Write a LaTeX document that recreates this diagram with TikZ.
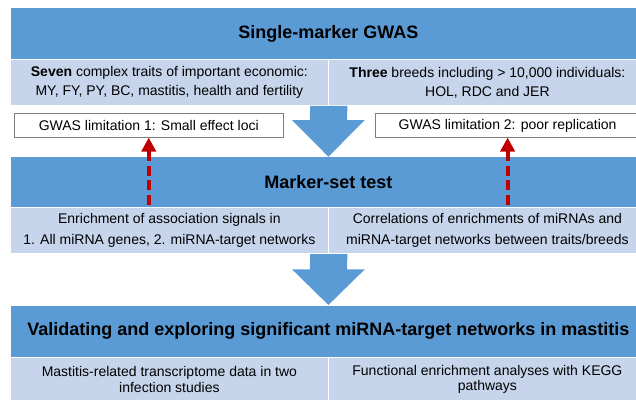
\documentclass[tikz,border=0pt]{standalone}
\usepackage{fontspec}
\setmainfont{Liberation Sans}
\usetikzlibrary{arrows.meta,calc}
\definecolor{bandblue}{HTML}{5B9BD5}
\definecolor{celllight}{HTML}{C6D5EB}
\definecolor{limgray}{HTML}{7F7F7F}
\definecolor{flagred}{HTML}{C00000}
\begin{document}
\begin{tikzpicture}[x=1pt,y=-1pt,
  band/.style={draw=white, line width=0.8pt, fill=bandblue, anchor=north west,
    inner sep=0pt, minimum width=636pt, minimum height=52pt,
    font=\fontsize{18}{21}\selectfont\bfseries},
  cell/.style={draw=white, line width=0.8pt, fill=celllight, anchor=north west,
    inner sep=0pt, minimum width=318pt, align=center},
  limbox/.style={draw=limgray, line width=0.8pt, fill=white, anchor=north west,
    inner sep=0pt, minimum height=23.4pt, font=\fontsize{14}{17}\selectfont},
  blockarrow/.style={fill=bandblue},
  upflag/.style={draw=flagred, line width=4pt, dash pattern=on 10pt off 4.5pt,
    -{Triangle[width=14pt,length=14pt]}}
]
\useasboundingbox (0,0) rectangle (636,399);
\clip (0,0) rectangle (636,399);

% stage 1: single-marker GWAS
\node[band] (gwas) at (10,7.3) {Single-marker GWAS};
\node[cell, minimum height=45.7pt, font=\fontsize{14}{19}\selectfont] (traits) at (10,59.3)
  {\textbf{Seven} complex traits of important economic:\\MY, FY, PY, BC, mastitis, health and fertility};
\node[cell, minimum height=45.7pt, font=\fontsize{14}{19}\selectfont] (breeds) at (328,59.3)
  {\textbf{Three} breeds including > 10,000 individuals:\\HOL, RDC and JER};

% limitations addressed by the marker-set test
\node[limbox, minimum width=268.7pt] (lim1) at (14,113.3) {GWAS limitation 1: Small effect loci};
\node[limbox, minimum width=265pt] (lim2) at (374.7,113.3) {GWAS limitation 2: poor replication};

% stage 2: marker-set test
\node[band, minimum height=51.3pt] (mtest) at (10,156) {Marker-set test};
\node[cell, minimum height=46pt, font=\fontsize{14}{21}\selectfont] (enrich) at (10,207.3)
  {Enrichment of association signals in\\1. All miRNA genes, 2. miRNA-target networks};
\node[cell, minimum height=46pt, font=\fontsize{14}{21}\selectfont] (corr) at (328,207.3)
  {Correlations of enrichments of miRNAs and\\miRNA-target networks between traits/breeds};

% stage 3: validation in mastitis
\node[band, minimum height=51.7pt] (valid) at (10,305) {Validating and exploring significant miRNA-target networks in mastitis};
\node[cell, minimum height=44.3pt, font=\fontsize{14}{15.5}\selectfont] (transc) at (10,356.7)
  {Mastitis-related transcriptome data in two\\infection studies};
\node[cell, minimum height=44.3pt, font=\fontsize{14}{15.5}\selectfont] (kegg) at (328,356.7)
  {Functional enrichment analyses with KEGG\\pathways};

% block arrows between stages
\fill[blockarrow] ($(traits.south east)+(-18.6,0)$) -- ($(traits.south east)+(18.6,0)$)
  -- ($(mtest.north)+(18.6,-36)$) -- ($(mtest.north)+(36.4,-36)$) -- ($(mtest.north)+(0,0.7)$)
  -- ($(mtest.north)+(-36.4,-36)$) -- ($(mtest.north)+(-18.6,-36)$) -- cycle;
\fill[blockarrow] ($(enrich.south east)+(-18.6,0)$) -- ($(enrich.south east)+(18.6,0)$)
  -- ($(valid.north)+(18.6,-35.7)$) -- ($(valid.north)+(36.4,-35.7)$) -- (valid.north)
  -- ($(valid.north)+(-36.4,-35.7)$) -- ($(valid.north)+(-18.6,-35.7)$) -- cycle;

% dashed red arrows: the test addresses each limitation
\draw[upflag] ($(lim1.south |- mtest.south)+(0,-3.5)$) -- (lim1.south);
\draw[upflag] ($(lim2.south |- mtest.south)+(0,-3.5)$) -- (lim2.south);
\end{tikzpicture}
\end{document}
